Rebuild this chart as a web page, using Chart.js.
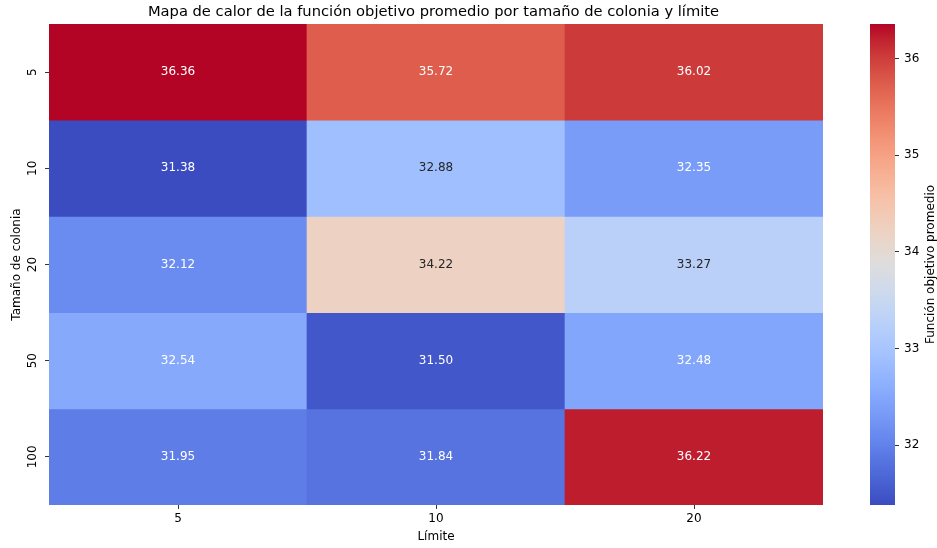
<!DOCTYPE html>
<html>
<head>
<meta charset="utf-8">
<script src="https://cdn.jsdelivr.net/npm/chart.js@4"></script>
<style>
  html, body { margin: 0; padding: 0; background: #ffffff; }
  #wrap { position: relative; width: 937px; height: 548px; }
  #heat { position: absolute; left: 0; top: 0; }
  #cbar { position: absolute; left: 823px; top: 0; }
</style>
</head>
<body>
<div id="wrap">
  <canvas id="heat" width="867" height="548"></canvas>
  <canvas id="cbar" width="114" height="548"></canvas>
</div>
<script>
// Columns (Límite) and rows (Tamaño de colonia)
const limites = ['5', '10', '20'];
const tamanos = ['5', '10', '20', '50', '100'];

// Mean objective value per row (colony size) and column (limit)
const filaTam5   = [36.36, 35.72, 36.02];
const filaTam10  = [31.38, 32.88, 32.35];
const filaTam20  = [32.12, 34.22, 33.27];
const filaTam50  = [32.54, 31.50, 32.48];
const filaTam100 = [31.95, 31.84, 36.22];
const valores = [filaTam5, filaTam10, filaTam20, filaTam50, filaTam100];

// Colour bar ticks
const ticksBarra = [32, 33, 34, 35, 36];

const vmin = Math.min(...valores.flat());
const vmax = Math.max(...valores.flat());

// coolwarm colormap control points (33 evenly spaced samples)
const CW_R = [0.2298057,0.26623388,0.30386891,0.342804478,0.38301334,0.424369608,0.46666708,0.509635204,0.552953156,0.596262162,0.639176211,0.681291281,0.722193294,0.761464949,0.798691636,0.833466556,0.865395197,0.897787179,0.924127593,0.944468518,0.958852946,0.96732803,0.969954137,0.966811177,0.958003065,0.943660866,0.923944917,0.89904617,0.869186849,0.834620542,0.795631745,0.752534934,0.705673158];
const CW_G = [0.298717966,0.353094838,0.406535296,0.458757618,0.50941904,0.558148092,0.604562568,0.648280772,0.688929332,0.726149107,0.759599947,0.788964712,0.813952739,0.834302879,0.849786142,0.860207984,0.86541021,0.848937047,0.827149382,0.800927443,0.769767752,0.732308115,0.690566408,0.645089984,0.595929796,0.543176326,0.486980036,0.42740493,0.36387517,0.29480832,0.21881545,0.12880889,0.01555616];
const CW_B = [0.753683153,0.801466763,0.84495867,0.883725899,0.917387822,0.945619588,0.968154911,0.98478814,0.995375608,0.999836203,0.998151185,0.990363227,0.976574709,0.956945269,0.931688648,0.901068838,0.865395561,0.820880546,0.774508472,0.726736146,0.678007945,0.628751763,0.579375448,0.530263762,0.481775914,0.434243684,0.387970225,0.343229596,0.300267182,0.259301199,0.220525627,0.184115123,0.150232812];

function coolwarmRaw(u) {
  u = Math.max(0, Math.min(1, u));
  const pos = u * 32;
  const k = Math.min(31, Math.floor(pos));
  const f = pos - k;
  return [
    CW_R[k] + (CW_R[k + 1] - CW_R[k]) * f,
    CW_G[k] + (CW_G[k + 1] - CW_G[k]) * f,
    CW_B[k] + (CW_B[k + 1] - CW_B[k]) * f
  ];
}
// 256-entry lookup, as a discrete colormap
function coolwarmLut(t) {
  const idx = Math.max(0, Math.min(255, Math.floor(t * 256)));
  return coolwarmRaw(idx / 255);
}
function toCss(c) {
  return 'rgb(' + c.map(v => Math.round(v * 255)).join(',') + ')';
}
function norm(v) { return (v - vmin) / (vmax - vmin); }
function colorFor(v) { return toCss(coolwarmLut(norm(v))); }
function luminance(c) {
  const lin = c.map(v => v <= 0.03928 ? v / 12.92 : Math.pow((v + 0.055) / 1.055, 2.4));
  return 0.2126 * lin[0] + 0.7152 * lin[1] + 0.0722 * lin[2];
}
function textColorFor(v) {
  return luminance(coolwarmLut(norm(v))) > 0.41 ? 'rgb(38,38,38)' : '#ffffff';
}

const FONT = 'DejaVu Sans';
const FS = 12;

// Cell annotations
const annotate = {
  id: 'annotate',
  afterDatasetsDraw(chart) {
    const ctx = chart.ctx;
    ctx.save();
    ctx.font = FS + 'px "' + FONT + '"';
    ctx.textAlign = 'center';
    ctx.textBaseline = 'middle';
    chart.data.datasets.forEach((ds, i) => {
      const meta = chart.getDatasetMeta(i);
      meta.data.forEach((el, j) => {
        const v = valores[i][j];
        ctx.fillStyle = textColorFor(v);
        ctx.fillText(v.toFixed(2), el.x, (el.y + el.base) / 2);
      });
    });
    ctx.restore();
  }
};

const datasets = tamanos.map((t, i) => ({
  label: t,
  data: limites.map(() => 1),
  backgroundColor: valores[i].map(colorFor),
  borderWidth: 0,
  barPercentage: 1,
  categoryPercentage: 1
}));

new Chart(document.getElementById('heat'), {
  type: 'bar',
  data: { labels: limites, datasets },
  plugins: [annotate],
  options: {
    responsive: false,
    animation: false,
    devicePixelRatio: 1,
    layout: { padding: 0 },
    plugins: {
      legend: { display: false },
      tooltip: { enabled: false },
      title: {
        display: true,
        text: 'Mapa de calor de la función objetivo promedio por tamaño de colonia y límite',
        color: '#000',
        font: { family: FONT, size: 14.7, weight: 'normal' },
        padding: { top: 3.3, bottom: 3.1 }
      }
    },
    scales: {
      x: {
        type: 'category',
        stacked: true,
        grid: { display: true, drawOnChartArea: false, offset: false, tickLength: 4, tickColor: '#000', tickWidth: 0.8 },
        border: { display: false },
        ticks: { color: '#000', font: { family: FONT, size: FS }, padding: 3, maxRotation: 0 },
        title: { display: true, text: 'Límite', color: '#000', font: { family: FONT, size: FS }, padding: { top: 5.8 } },
        afterFit(scale) { scale.height = 43; }
      },
      y: {
        type: 'linear',
        stacked: true,
        reverse: true,
        min: 0,
        max: tamanos.length,
        afterBuildTicks(scale) {
          scale.ticks = tamanos.map((_, i) => ({ value: i + 0.5 }));
        },
        grid: { display: true, drawOnChartArea: false, tickLength: 4, tickColor: '#000', tickWidth: 0.8 },
        border: { display: false },
        ticks: {
          color: '#000',
          font: { family: FONT, size: FS },
          padding: 0.5,
          minRotation: 90,
          maxRotation: 90,
          crossAlign: 'center',
          callback(value, index) { return tamanos[index]; }
        },
        title: { display: true, text: 'Tamaño de colonia', color: '#000', font: { family: FONT, size: FS }, padding: { top: 10 } },
        afterFit(scale) { scale.width = 49; }
      },
      // empty right margin that keeps room for the colour bar
      margen: {
        type: 'linear',
        position: 'right',
        display: true,
        grid: { display: false },
        border: { display: false },
        ticks: { display: false },
        afterFit(scale) { scale.width = 44; }
      }
    }
  }
});

// Colour bar label, reading bottom to top
const barLabel = {
  id: 'barLabel',
  afterDraw(chart) {
    const ctx = chart.ctx;
    const a = chart.chartArea;
    ctx.save();
    ctx.font = FS + 'px "' + FONT + '"';
    ctx.fillStyle = '#000';
    ctx.textAlign = 'center';
    ctx.textBaseline = 'middle';
    ctx.translate(108, (a.top + a.bottom) / 2);
    ctx.rotate(-Math.PI / 2);
    ctx.fillText('Función objetivo promedio', 0, 0);
    ctx.restore();
  }
};

new Chart(document.getElementById('cbar'), {
  type: 'bar',
  data: {
    labels: ['escala'],
    datasets: [{
      data: [[vmin, vmax]],
      borderWidth: 0,
      barPercentage: 1,
      categoryPercentage: 1,
      backgroundColor(ctx) {
        const area = ctx.chart.chartArea;
        if (!area) return 'rgb(221,221,221)';
        const g = ctx.chart.ctx.createLinearGradient(0, area.bottom, 0, area.top);
        for (let i = 0; i <= 64; i++) {
          g.addColorStop(i / 64, toCss(coolwarmRaw(i / 64)));
        }
        return g;
      }
    }]
  },
  plugins: [barLabel],
  options: {
    responsive: false,
    animation: false,
    devicePixelRatio: 1,
    layout: { padding: { left: 47, right: 0, top: 24, bottom: 43 } },
    plugins: { legend: { display: false }, tooltip: { enabled: false } },
    scales: {
      x: { display: false },
      y: {
        type: 'linear',
        position: 'right',
        min: vmin,
        max: vmax,
        afterBuildTicks(scale) { scale.ticks = ticksBarra.map(v => ({ value: v })); },
        grid: { display: true, drawOnChartArea: false, tickLength: 4, tickColor: '#000', tickWidth: 0.8 },
        border: { display: false },
        ticks: { color: '#000', font: { family: FONT, size: FS }, padding: 5 },
        afterFit(scale) { scale.width = 42; }
      }
    }
  }
});
</script>
</body>
</html>
